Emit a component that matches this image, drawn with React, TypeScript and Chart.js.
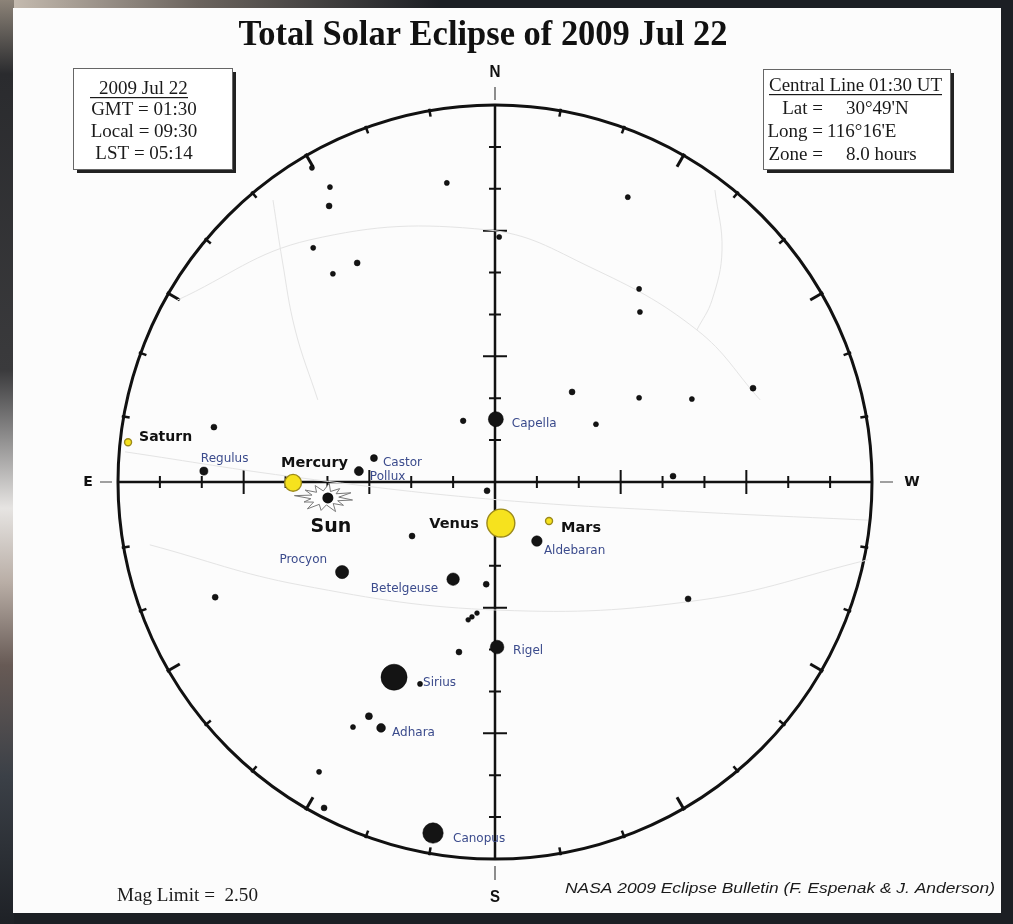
import { useEffect, useRef } from "react";
import { Chart, registerables } from "chart.js";

Chart.register(...registerables);

// ---------------- data ----------------
// Coordinates: zenith distance in degrees, x positive = West, y positive = North.
const HORIZON_ZD = 90;
const ALT_TICKS = [10, 20, 30, 40, 50, 60, 70, 80];
const MAJOR_ALT_TICKS = [30, 60];
const AZ_TICKS = [10, 20, 30, 40, 50, 60, 70, 80, 100, 110, 120, 130, 140, 150, 160, 170,
  190, 200, 210, 220, 230, 240, 250, 260, 280, 290, 300, 310, 320, 330, 340, 350];

const TITLE = "Total Solar Eclipse of 2009 Jul 22";
const LEFT_BOX_HEADER = "2009 Jul 22";
const LEFT_BOX_LINES = ["GMT = 01:30", "Local = 09:30", "LST = 05:14"];
const RIGHT_BOX_HEADER = "Central Line 01:30 UT";
const RIGHT_BOX_KEYS = ["Lat =", "Long =", "Zone ="];
const RIGHT_BOX_VALUES = ["30°49'N", "116°16'E", "8.0 hours"];
const MAG_LIMIT = "Mag Limit =  2.50";
const CREDIT = "NASA 2009 Eclipse Bulletin (F. Espenak & J. Anderson)";

const starName = ["", "", "", "", "", "", "", "", "", "", "", "", "", "", "", "", "Capella", "", "Aldebaran", "Betelgeuse", "", "", "Regulus", "Pollux", "Castor", "", "", "Procyon", "", "", "", "Rigel", "", "Sirius", "", "", "", "Adhara", "", "", "", "", "Canopus", ""];
const starX = [-39.4, -39.6, -11.5, -43.4, -32.9, -38.7, 1.0, 31.7, 34.4, 34.6, 18.4, 61.6, 34.4, 47.0, 24.1, -7.6, 0.2, -1.9, 10.0, -10.0, -2.1, -67.1, -69.5, -32.5, -28.9, -19.8, 42.5, -36.5, -6.4, -5.5, -4.3, 0.5, -8.6, -24.1, -17.9, -30.1, -33.9, -27.2, -66.8, 46.1, -42.0, -40.8, -14.8, -43.7];
const starY = [70.4, 65.9, 71.4, 55.9, 52.3, 49.7, 58.5, 68.0, 46.1, 40.6, 21.5, 22.4, 20.1, 19.8, 13.8, 14.6, 15.0, -2.1, -14.1, -23.2, -24.4, 13.1, 2.6, 2.6, 5.7, -12.9, 1.4, -21.5, -32.9, -32.2, -31.3, -39.4, -40.6, -46.6, -48.2, -55.9, -58.5, -58.7, -27.5, -27.9, -69.2, -77.8, -83.8, 75.0];
const starMag = [2.2, 1.9, 2.2, 2.2, 1.9, 2.2, 2.2, 2.2, 2.2, 2.2, 1.9, 1.9, 2.2, 2.2, 2.2, 2.0, 0.08, 1.9, 0.85, 0.5, 1.9, 1.9, 1.35, 1.14, 1.6, 1.9, 1.9, 0.38, 2.3, 2.3, 2.3, 0.3, 1.9, -1.46, 2.2, 1.6, 2.2, 1.2, 1.9, 1.9, 2.2, 1.9, -0.72, 2.2];

const planetName = ["Saturn", "Mercury", "Venus", "Mars"];
const planetX = [-87.6, -48.2, 1.4, 12.9];
const planetY = [9.5, -0.2, -9.8, -9.3];
const planetMag = [1.1, -1.3, -4.0, 1.1];

const sunX = [-39.9];
const sunY = [-3.8];

// faint celestial grid curves
const curveAX = [-75.9, -44.2, -1.9, 22.7, 48.2, 63.3];
const curveAY = [43.4, 57.8, 60.2, 51.3, 36.3, 19.6];
const curveBX = [-53.0, -50.8, -47.7, -42.3];
const curveBY = [67.3, 53.0, 36.3, 19.6];
const curveCX = [52.5, 54.2, 51.8, 48.2];
const curveCY = [69.7, 55.4, 43.4, 36.3];
const curveDX = [-88.3, -46.5, 1.2, 48.9, 89.0];
const curveDY = [7.2, 1.0, -4.3, -7.2, -9.1];
const curveEX = [-82.4, -46.5, 1.2, 48.9, 89.0];
const curveEY = [-15.0, -24.6, -30.6, -28.2, -18.6];

// ---------------- styles ----------------
const LABEL_STYLE: Record<string, { dx: number; dy: number; align: CanvasTextAlign }> = {
  Capella: { dx: 16, dy: 5, align: "left" },
  Regulus: { dx: -3, dy: -12, align: "left" },
  Castor: { dx: 9, dy: 5, align: "left" },
  Pollux: { dx: 11, dy: 6, align: "left" },
  Aldebaran: { dx: 7, dy: 10, align: "left" },
  Procyon: { dx: -15, dy: -12, align: "right" },
  Betelgeuse: { dx: -15, dy: 10, align: "right" },
  Rigel: { dx: 16, dy: 4, align: "left" },
  Sirius: { dx: 29, dy: 6, align: "left" },
  Adhara: { dx: 11, dy: 5, align: "left" },
  Canopus: { dx: 20, dy: 6, align: "left" },
  Saturn: { dx: 11, dy: -5, align: "left" },
  Mercury: { dx: -12, dy: -20, align: "left" },
  Venus: { dx: -22, dy: 1, align: "right" },
  Mars: { dx: 12, dy: 7, align: "left" },
  Sun: { dx: 3, dy: 29, align: "center" },
};
const STAR_LABEL_COLOR = "#3b4b8c";
const starRadius = (m: number) => 2.3 + 1.42 * Math.pow(Math.max(0, 2.5 - m), 1.47);
const planetRadius = (m: number) => 3.5 + 2.05 * (1.1 - m);

const pts = (xs: number[], ys: number[]) => xs.map((x, i) => ({ x, y: ys[i] }));

function fitText(ctx: CanvasRenderingContext2D, text: string, x: number, y: number, width: number, align: CanvasTextAlign) {
  const w = ctx.measureText(text).width;
  const s = width / w;
  ctx.save();
  ctx.translate(x, y);
  ctx.scale(s, 1);
  ctx.textAlign = align;
  ctx.fillText(text, 0, 0);
  ctx.restore();
}

const framePlugin = {
  id: "frame",
  beforeDraw(chart: any) {
    const ctx: CanvasRenderingContext2D = chart.ctx;
    const W = chart.width, H = chart.height;
    ctx.save();
    ctx.fillStyle = "#1c1f24";
    ctx.fillRect(0, 0, W, H);
    const tg = ctx.createLinearGradient(0, 0, 440, 0);
    tg.addColorStop(0, "#cbc1b5");
    tg.addColorStop(0.45, "#6b645e");
    tg.addColorStop(1, "#1c1f24");
    ctx.fillStyle = tg;
    ctx.fillRect(0, 0, 440, 9);
    const lg = ctx.createLinearGradient(0, 0, 0, H);
    lg.addColorStop(0, "#8c8378");
    lg.addColorStop(0.08, "#2a2b2e");
    lg.addColorStop(0.4, "#3a3a3c");
    lg.addColorStop(0.55, "#e6e4e2");
    lg.addColorStop(0.63, "#b9aea6");
    lg.addColorStop(0.72, "#675a55");
    lg.addColorStop(0.84, "#3b4047");
    lg.addColorStop(1, "#1e2126");
    ctx.fillStyle = lg;
    ctx.fillRect(0, 0, 14, H);
    ctx.fillStyle = "#fcfcfc";
    ctx.fillRect(13, 8, 988, 905);
    ctx.restore();
  },
  beforeDatasetsDraw(chart: any) {
    const ctx: CanvasRenderingContext2D = chart.ctx;
    const xs = chart.scales.x, ys = chart.scales.y;
    const cx = xs.getPixelForValue(0), cy = ys.getPixelForValue(0);
    const r = xs.getPixelForValue(HORIZON_ZD) - cx;
    ctx.save();
    ctx.strokeStyle = "#111";
    ctx.lineCap = "butt";
    // horizon
    ctx.lineWidth = 3;
    ctx.beginPath();
    ctx.arc(cx, cy, r, 0, Math.PI * 2);
    ctx.stroke();
    // azimuth ticks
    for (const az of AZ_TICKS) {
      const major = az % 30 === 0;
      const a = (az * Math.PI) / 180;
      const ux = -Math.sin(a), uy = -Math.cos(a);
      const rin = r - (major ? 13 : 6), rout = r + 2;
      ctx.lineWidth = major ? 3 : 2.5;
      ctx.beginPath();
      ctx.moveTo(cx + ux * rin, cy + uy * rin);
      ctx.lineTo(cx + ux * rout, cy + uy * rout);
      ctx.stroke();
    }
    // cross axes
    ctx.lineWidth = 2.5;
    ctx.beginPath();
    ctx.moveTo(cx - r, cy);
    ctx.lineTo(cx + r, cy);
    ctx.moveTo(cx, cy - r);
    ctx.lineTo(cx, cy + r);
    ctx.stroke();
    ctx.lineWidth = 2;
    for (const d of ALT_TICKS) {
      const major = MAJOR_ALT_TICKS.includes(d);
      const h = major ? 12 : 6;
      for (const sgn of [-1, 1]) {
        const px = xs.getPixelForValue(sgn * d);
        const py = ys.getPixelForValue(sgn * d);
        ctx.beginPath();
        ctx.moveTo(px, cy - h);
        ctx.lineTo(px, cy + h);
        ctx.moveTo(cx - h, py);
        ctx.lineTo(cx + h, py);
        ctx.stroke();
      }
    }
    // outer dashes
    ctx.lineWidth = 1.2;
    ctx.strokeStyle = "#444";
    ctx.beginPath();
    ctx.moveTo(cx, cy - r - 18); ctx.lineTo(cx, cy - r - 5);
    ctx.moveTo(cx, cy + r + 7); ctx.lineTo(cx, cy + r + 21);
    ctx.moveTo(cx - r - 18, cy); ctx.lineTo(cx - r - 6, cy);
    ctx.moveTo(cx + r + 8, cy); ctx.lineTo(cx + r + 21, cy);
    ctx.stroke();
    // direction letters
    ctx.fillStyle = "#111";
    ctx.textBaseline = "middle";
    ctx.font = "bold 17px 'Liberation Sans'";
    fitText(ctx, "N", cx, cy - r - 33, 11, "center");
    fitText(ctx, "S", cx, cy + r + 38, 10, "center");
    ctx.font = "bold 14px 'DejaVu Sans'";
    ctx.textAlign = "center";
    ctx.fillText("E", cx - r - 30, cy);
    ctx.fillText("W", cx + r + 40, cy);
    // sun corona
    const sx = xs.getPixelForValue(sunX[0]) - 3, sy = ys.getPixelForValue(sunY[0]);
    const jitter = [1, 0.85, 1.05, 0.9, 1, 0.8, 1.1, 0.9, 0.95, 1.05, 0.85, 1];
    ctx.lineWidth = 1;
    ctx.strokeStyle = "#7a7a7a";
    ctx.fillStyle = "#fff";
    const n = 12;
    ctx.beginPath();
    for (let i = 0; i < n * 2; i++) {
      const a = (i / (n * 2)) * Math.PI * 2 + 0.15;
      const rr = i % 2 === 0 ? jitter[i / 2] : 0.5;
      const px = sx + Math.cos(a) * 28 * rr;
      const py = sy + Math.sin(a) * 14 * rr;
      if (i === 0) ctx.moveTo(px, py); else ctx.lineTo(px, py);
    }
    ctx.closePath();
    ctx.fill();
    ctx.stroke();
    ctx.restore();
  },
  afterDatasetsDraw(chart: any) {
    const ctx: CanvasRenderingContext2D = chart.ctx;
    ctx.save();
    ctx.textBaseline = "middle";
    // star labels
    const starMeta = chart.getDatasetMeta(2);
    ctx.fillStyle = STAR_LABEL_COLOR;
    ctx.font = "12px 'DejaVu Sans'";
    starName.forEach((name, i) => {
      if (!name) return;
      const st = LABEL_STYLE[name];
      const el = starMeta.data[i];
      ctx.textAlign = st.align;
      ctx.fillText(name, el.x + st.dx, el.y + st.dy);
    });
    // planet labels
    const pMeta = chart.getDatasetMeta(0);
    ctx.fillStyle = "#111";
    planetName.forEach((name, i) => {
      const st = LABEL_STYLE[name];
      const el = pMeta.data[i];
      ctx.font = name === "Saturn" ? "bold 14px 'DejaVu Sans'" : "bold 14.5px 'DejaVu Sans'";
      ctx.textAlign = st.align;
      ctx.fillText(name, el.x + st.dx, el.y + st.dy);
    });
    const sMeta = chart.getDatasetMeta(1);
    const sst = LABEL_STYLE.Sun;
    ctx.font = "bold 19px 'DejaVu Sans'";
    ctx.textAlign = "center";
    ctx.fillText("Sun", sMeta.data[0].x + sst.dx, sMeta.data[0].y + sst.dy);

    // title
    ctx.fillStyle = "#111";
    ctx.textBaseline = "alphabetic";
    ctx.font = "bold 36px 'Liberation Serif'";
    fitText(ctx, TITLE, 483, 45, 489, "center");

    // boxes
    const drawBox = (x: number, y: number, w: number, h: number) => {
      ctx.fillStyle = "#222";
      ctx.fillRect(x + 4, y + 4, w, h);
      ctx.fillStyle = "#fff";
      ctx.fillRect(x, y, w, h);
      ctx.strokeStyle = "#666";
      ctx.lineWidth = 1;
      ctx.strokeRect(x + 0.5, y + 0.5, w, h);
    };
    drawBox(73, 68, 159, 101);
    drawBox(763, 69, 187, 100);

    ctx.fillStyle = "#1a1a1a";
    ctx.textBaseline = "middle";
    ctx.font = "19px 'Liberation Serif'";
    ctx.textAlign = "left";
    ctx.fillText(LEFT_BOX_HEADER, 99, 89);
    ctx.fillRect(90, 97, 98, 1.2);
    ctx.textAlign = "center";
    LEFT_BOX_LINES.forEach((t, i) => ctx.fillText(t, 144, 110 + i * 22));

    ctx.textAlign = "left";
    ctx.font = "19px 'Liberation Serif'";
    fitText(ctx, RIGHT_BOX_HEADER, 769, 86, 173, "left");
    ctx.fillRect(769, 94, 173, 1.2);
    const valX = [846, 827, 846];
    RIGHT_BOX_KEYS.forEach((k, i) => {
      const y = 109 + i * 23;
      ctx.textAlign = "right";
      ctx.fillText(k, 823, y);
      ctx.textAlign = "left";
      ctx.fillText(RIGHT_BOX_VALUES[i], valX[i], y);
    });

    // footer
    ctx.font = "19px 'Liberation Serif'";
    fitText(ctx, MAG_LIMIT, 117, 896, 141, "left");
    ctx.font = "italic 15px 'Liberation Sans'";
    fitText(ctx, CREDIT, 565, 889, 430, "left");
    ctx.restore();
  },
};

const gridDataset = (xs: number[], ys: number[]) => ({
  data: pts(xs, ys),
  showLine: true,
  tension: 0.4,
  borderColor: "#e4e4e4",
  borderWidth: 1,
  pointRadius: 0,
  order: 10,
  clip: false,
});

export default function App() {
  const ref = useRef<HTMLCanvasElement | null>(null);
  useEffect(() => {
    if (!ref.current) return;
    const chart = new Chart(ref.current, {
      type: "scatter",
      data: {
        datasets: [
          {
            data: pts(planetX, planetY),
            pointRadius: planetMag.map(planetRadius),
            pointHoverRadius: planetMag.map(planetRadius),
            backgroundColor: "#f6e21e",
            borderColor: "#9c8a1a",
            borderWidth: 1.4,
            order: 0,
            clip: false,
          } as any,
          {
            data: pts(sunX, sunY),
            pointRadius: 5.5,
            backgroundColor: "#111",
            borderWidth: 0,
            order: 1,
            clip: false,
          } as any,
          {
            data: pts(starX, starY),
            pointRadius: starMag.map(starRadius),
            pointHoverRadius: starMag.map(starRadius),
            backgroundColor: "#141414",
            borderColor: "#000",
            borderWidth: 0.5,
            order: 2,
            clip: false,
          } as any,
          gridDataset(curveAX, curveAY) as any,
          gridDataset(curveBX, curveBY) as any,
          gridDataset(curveCX, curveCY) as any,
          gridDataset(curveDX, curveDY) as any,
          gridDataset(curveEX, curveEY) as any,
        ],
      },
      options: {
        animation: false,
        responsive: false,
        devicePixelRatio: 1,
        events: [],
        layout: { padding: { left: 118, right: 141, top: 105, bottom: 65 } },
        scales: {
          x: { type: "linear", min: -HORIZON_ZD, max: HORIZON_ZD, display: false },
          y: { type: "linear", min: -HORIZON_ZD, max: HORIZON_ZD, display: false },
        },
        plugins: { legend: { display: false }, tooltip: { enabled: false } },
      },
      plugins: [framePlugin as any],
    });
    return () => chart.destroy();
  }, []);
  return (
    <div style={{ position: "absolute", left: 0, top: 0, width: 1013, height: 924 }}>
      <canvas ref={ref} width={1013} height={924} style={{ display: "block" }} />
    </div>
  );
}
